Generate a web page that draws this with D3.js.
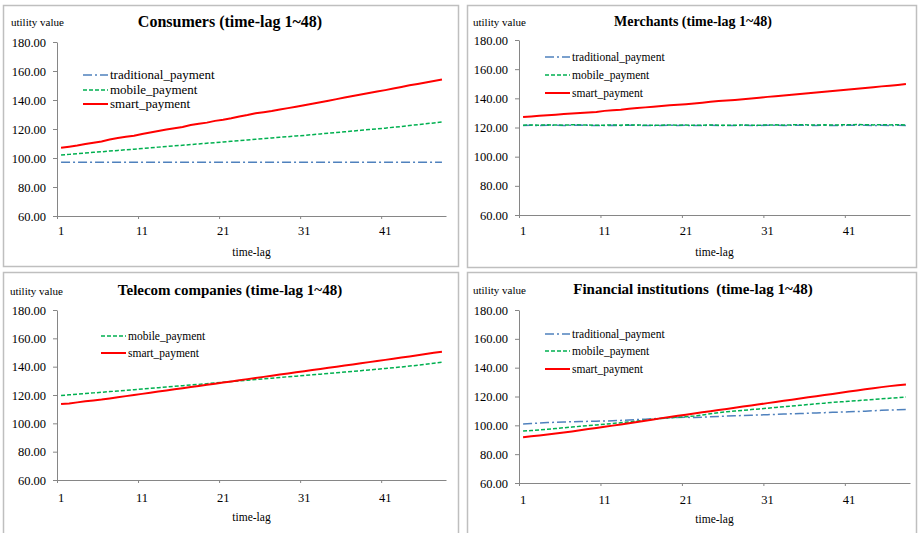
<!DOCTYPE html>
<html><head><meta charset="utf-8">
<script src="https://cdn.jsdelivr.net/npm/d3@7"></script>
<style>body{margin:0;background:#fff}svg{display:block}text{font-family:"Liberation Serif","Times New Roman",serif;fill:#000}</style>
</head><body><svg id="c" width="921" height="533"></svg>
<script>
const timeLags = d3.range(1, 49);
const xTickLabels = [1, 11, 21, 31, 41];
const yTickValues = [60, 80, 100, 120, 140, 160, 180];
const seriesNames = ["traditional_payment", "mobile_payment", "smart_payment"];
const panelTitles = ["Consumers (time-lag 1~48)", "Merchants (time-lag 1~48)", "Telecom companies (time-lag 1~48)", "Financial institutions  (time-lag 1~48)"];

const consumersTraditional = [97,97,97,97,97,97,97,97,97,97,97,97,97,97,97,97,97,97,97,97,97,97,97,97,97,97,97,97,97,97,97,97,97,97,97,97,97,97,97,97,97,97,97,97,97,97,97,97];
const consumersMobile = [102.0,102.5,103.0,103.4,103.9,104.3,104.8,105.2,105.7,106.1,106.6,107.0,107.5,107.9,108.4,108.8,109.3,109.7,110.2,110.6,111.1,111.5,112.0,112.4,112.9,113.4,113.8,114.3,114.7,115.2,115.6,116.1,116.6,117.1,117.6,118.1,118.6,119.1,119.6,120.1,120.6,121.2,121.7,122.4,123.0,123.6,124.2,124.8];
const consumersSmart = [107.0,107.8,108.6,109.6,110.5,111.4,112.8,113.8,114.6,115.4,116.6,117.6,118.6,119.6,120.5,121.4,122.8,123.6,124.4,125.6,126.4,127.4,128.6,129.6,130.8,131.6,132.4,133.4,134.4,135.4,136.4,137.4,138.4,139.5,140.6,141.7,142.8,143.8,144.8,145.8,146.8,147.9,149.0,150.1,151.1,152.1,153.1,154.2];

const merchantsTraditional = [121.4,121.5,121.4,121.6,121.5,121.4,121.6,121.7,121.5,121.3,121.4,121.5,121.4,121.6,121.5,121.4,121.3,121.4,121.5,121.4,121.5,121.3,121.4,121.5,121.4,121.3,121.4,121.5,121.3,121.4,121.5,121.6,121.4,121.5,121.6,121.5,121.4,121.5,121.3,121.4,121.5,121.6,121.5,121.4,121.5,121.4,121.5,121.3];
const merchantsMobile = [121.6,121.7,121.6,121.8,121.7,121.6,121.9,121.8,121.7,121.5,121.6,121.7,121.6,121.8,121.7,121.6,121.5,121.6,121.7,121.6,121.7,121.5,121.6,121.7,121.6,121.5,121.6,121.7,121.5,121.6,121.7,121.8,121.6,121.8,121.9,121.8,121.7,121.8,121.7,121.8,121.9,122.0,121.9,121.8,121.9,121.8,121.9,121.7];
const merchantsSmart = [127.2,127.6,128.0,128.4,128.8,129.2,129.6,130.0,130.3,130.6,131.4,131.9,132.2,132.8,133.3,133.8,134.2,134.7,135.2,135.6,136.0,136.5,137.0,137.6,138.2,138.5,138.9,139.4,139.9,140.4,141.0,141.5,142.0,142.5,143.0,143.5,144.0,144.5,145.0,145.5,146.0,146.6,147.1,147.6,148.2,148.7,149.2,149.8];

const telecomMobile = [119.6,120.1,120.6,121.0,121.5,121.9,122.4,122.8,123.3,123.7,124.2,124.7,125.2,125.6,126.1,126.6,127.1,127.5,128.0,128.5,129.0,129.5,130.0,130.4,130.9,131.4,131.9,132.4,132.9,133.3,133.8,134.3,134.7,135.2,135.7,136.2,136.7,137.2,137.7,138.2,138.7,139.2,139.8,140.4,141.0,141.7,142.4,143.1];
const telecomSmart = [113.6,114.0,114.8,115.6,116.2,116.8,117.6,118.4,119.2,120.0,120.8,121.6,122.4,123.2,124.0,124.8,125.6,126.4,127.2,128.0,128.8,129.6,130.4,131.2,132.0,132.8,133.6,134.4,135.2,136.0,136.8,137.6,138.4,139.2,140.0,140.8,141.6,142.4,143.2,144.0,144.8,145.6,146.4,147.2,148.0,148.9,149.8,150.6];

const financialTraditional = [101.0,101.3,101.6,101.9,102.1,102.3,102.5,102.6,102.8,102.9,103.0,103.2,103.4,103.7,104.0,104.3,104.6,104.9,105.2,105.4,105.6,105.4,105.6,105.9,106.2,106.4,106.6,106.8,107.0,107.2,107.4,107.6,107.8,108.0,108.2,108.4,108.6,108.8,109.0,109.2,109.4,109.6,109.8,110.1,110.4,110.6,110.8,111.0];
const financialMobile = [96.0,96.4,96.8,97.3,97.8,98.3,98.8,99.3,99.8,100.3,100.8,101.3,101.8,102.4,103.0,103.6,104.2,104.7,105.2,105.6,106.0,106.4,107.2,108.0,108.8,109.4,109.9,110.4,110.9,111.4,111.9,112.4,112.9,113.4,113.9,114.4,114.9,115.4,115.9,116.3,116.7,117.1,117.5,117.9,118.4,118.8,119.2,119.6];
const financialSmart = [91.8,92.4,93.0,93.7,94.4,95.1,95.8,96.6,97.4,98.2,99.0,99.8,100.6,101.4,102.3,103.2,104.1,105.0,105.8,106.6,107.4,108.2,109.0,109.8,110.6,111.4,112.2,113.0,113.8,114.6,115.4,116.2,117.0,117.8,118.6,119.4,120.2,121.0,121.8,122.6,123.4,124.2,125.0,125.8,126.5,127.2,127.8,128.4];

const styles = {
  traditional_payment: {color: "#4F81BD", width: 1.5, dash: "9,3,2,3"},
  mobile_payment: {color: "#00B050", width: 1.5, dash: "4,2"},
  smart_payment: {color: "#FF0000", width: 2, dash: null}
};

const panels = [
  {title: panelTitles[0], series: [["traditional_payment", consumersTraditional], ["mobile_payment", consumersMobile], ["smart_payment", consumersSmart]],
   box: [3, 5, 455, 261], plot: [57, 446, 42, 216], titleX: 230, titleY: 27, ulX: 11, ulY: 26, titleSize: 16,
   legX: 83, legRows: [75, 90, 104], legSize: 13, xLabY: 235, axisTitleY: 256},
  {title: panelTitles[1], series: [["traditional_payment", merchantsTraditional], ["mobile_payment", merchantsMobile], ["smart_payment", merchantsSmart]],
   box: [467, 5, 449, 262], plot: [519, 910, 40, 215], titleX: 693, titleY: 26, ulX: 473, ulY: 26, titleSize: 14,
   legX: 545, legRows: [57, 75, 93], legSize: 11.5, xLabY: 235, axisTitleY: 256},
  {title: panelTitles[2], series: [["mobile_payment", telecomMobile], ["smart_payment", telecomSmart]],
   box: [3, 272, 455, 270], plot: [57, 446, 310, 480], titleX: 230, titleY: 295, ulX: 10, ulY: 295, titleSize: 15,
   legX: 101, legRows: [336, 353], legSize: 11.5, xLabY: 502, axisTitleY: 521},
  {title: panelTitles[3], series: [["traditional_payment", financialTraditional], ["mobile_payment", financialMobile], ["smart_payment", financialSmart]],
   box: [467, 272, 449, 270], plot: [519, 910, 310, 483], titleX: 693, titleY: 294, ulX: 473, ulY: 294, titleSize: 15,
   legX: 545, legRows: [334, 351, 369], legSize: 11.5, xLabY: 504, axisTitleY: 523}
];

const svg = d3.select("#c");

panels.forEach(p => {
  const g = svg.append("g");
  const [bx, by, bw, bh] = p.box;
  g.append("rect").attr("x", bx + 0.5).attr("y", by + 0.5).attr("width", bw).attr("height", bh)
    .attr("fill", "#fff").attr("stroke", "#BFBFBF").attr("stroke-width", 1.5);

  const [L, R, T, B] = p.plot;
  const x = d3.scaleLinear().domain([0.5, 48.5]).range([L, R]);
  const y = d3.scaleLinear().domain([60, 180]).range([B, T]);

  // y axis
  const ya = g.append("g").attr("transform", `translate(${L},0)`)
    .call(d3.axisLeft(y).tickValues(yTickValues).tickFormat(d3.format(".2f")).tickSize(4).tickPadding(7).tickSizeOuter(0));
  ya.select(".domain").attr("stroke", "#868686");
  ya.selectAll(".tick line").attr("stroke", "#868686");
  ya.selectAll("text").style("font-family", '"Liberation Serif",serif').style("font-size", "12.5px").attr("fill", "#000");

  // x axis tick marks at category boundaries
  const xa = g.append("g").attr("transform", `translate(0,${B})`)
    .call(d3.axisBottom(x).tickValues(xTickLabels.map(v => v - 0.5)).tickFormat("").tickSize(3).tickSizeOuter(0));
  xa.select(".domain").attr("stroke", "#868686");
  xa.selectAll(".tick line").attr("stroke", "#868686");

  // x labels at category centres
  g.selectAll(".xl").data(xTickLabels).enter().append("text")
    .attr("x", d => x(d)).attr("y", p.xLabY).attr("text-anchor", "middle")
    .style("font-size", "12.5px").text(d => d);

  g.append("text").attr("x", (L + R) / 2).attr("y", p.axisTitleY).attr("text-anchor", "middle")
    .style("font-size", "11.5px").text("time-lag");
  g.append("text").attr("x", p.ulX).attr("y", p.ulY).style("font-size", "11px").text("utility value");
  g.append("text").attr("x", p.titleX).attr("y", p.titleY).attr("text-anchor", "middle")
    .style("font-size", p.titleSize + "px").style("font-weight", "bold").style("white-space", "pre").text(p.title);

  const line = d3.line().x((d, i) => x(timeLags[i])).y(d => y(d));
  p.series.forEach(([name, vals]) => {
    const s = styles[name];
    g.append("path").datum(vals).attr("d", line).attr("fill", "none")
      .attr("stroke", s.color).attr("stroke-width", s.width)
      .attr("stroke-dasharray", s.dash);
  });

  // legend
  p.series.forEach(([name], i) => {
    const s = styles[name];
    const yy = p.legRows[i];
    g.append("line").attr("x1", p.legX).attr("x2", p.legX + 25).attr("y1", yy).attr("y2", yy)
      .attr("stroke", s.color).attr("stroke-width", s.width).attr("stroke-dasharray", s.dash);
    g.append("text").attr("x", p.legX + 27).attr("y", yy + 4).style("font-size", p.legSize + "px").text(name);
  });
});
</script></body></html>
